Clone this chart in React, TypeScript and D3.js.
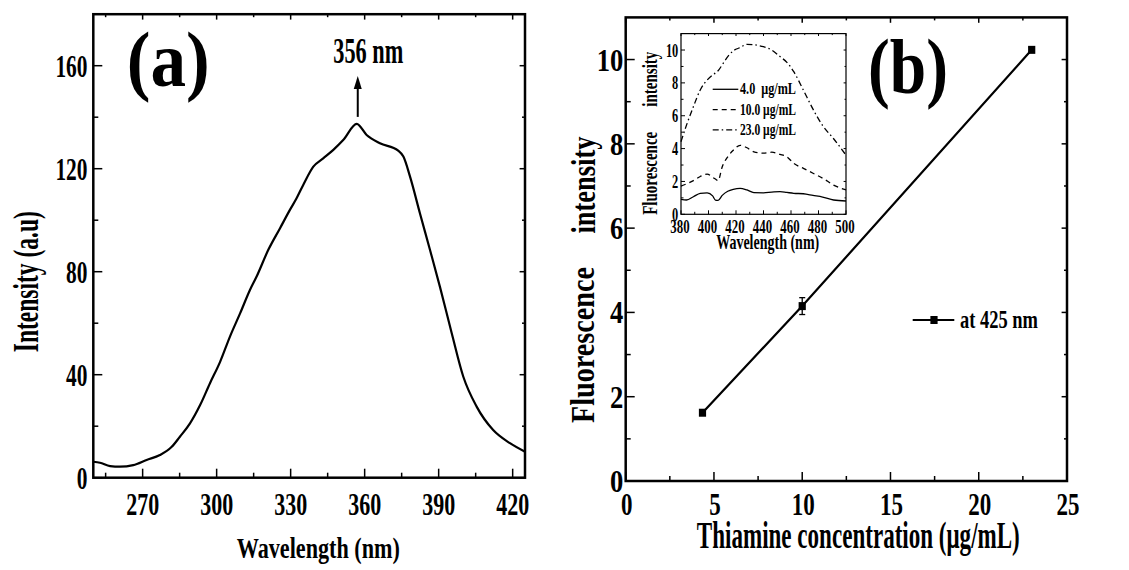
import React from 'react';
import * as d3 from 'd3';

// ---------- Panel (a): excitation spectrum ----------
const specWavelength = [250, 252.7, 256.8, 260.8, 266.2, 271.6, 277, 281.8, 285.1, 289.2, 293.3, 297.3, 301.4, 305.4, 309.5, 313.5, 316.2, 320.9, 325.7, 329.7, 332.4, 335.1, 339.2, 343.2, 347.3, 351.3, 356.8, 360.8, 366.2, 373.6, 375.7, 378.4, 382.4, 386.5, 390.5, 395.3, 400, 405.4, 412.1, 418.9, 425];
const specIntensity = [6.2, 5.8, 4.5, 4.3, 4.9, 6.9, 8.8, 12, 15.9, 21.1, 28.2, 36.7, 45, 54.8, 63.8, 72.9, 78.1, 88.4, 96.9, 104, 108.5, 113.7, 120.8, 124, 127.3, 131.1, 137.4, 133.1, 129.9, 127, 124.7, 116.9, 102.7, 88.4, 74.2, 56.1, 39.2, 27.6, 18.5, 13.4, 10.1];
const specXTicks = [270, 300, 330, 360, 390, 420];
const specXMinor = [255, 285, 315, 345, 375, 405];
const specYTicks = [0, 40, 80, 120, 160];
const specYMinor = [20, 60, 100, 140];

// ---------- Panel (b): calibration ----------
const concentration = [4.35, 10, 23];
const fluorescence = [1.62, 4.15, 10.23];
const fluorescenceErr = [0.05, 0.2, 0.06];
const concXTicks = [0, 5, 10, 15, 20, 25];
const concXMinor = [2.5, 7.5, 12.5, 17.5, 22.5];
const concYTicks = [0, 2, 4, 6, 8, 10];
const concYMinor = [1, 3, 5, 7, 9];

// ---------- Inset: emission spectra ----------
const insetWavelength = [380, 384, 389, 394, 399, 403, 405, 407, 410, 414, 418, 423, 428, 433, 440, 446, 452, 457, 462, 469, 476, 483, 491, 500];
const inset4 = [0.91, 0.87, 1.07, 1.28, 1.31, 1.12, 0.87, 0.85, 1.15, 1.4, 1.52, 1.58, 1.48, 1.32, 1.31, 1.35, 1.38, 1.33, 1.28, 1.25, 1.15, 1.05, 0.87, 0.81];
const inset10 = [1.72, 1.85, 2.05, 2.3, 2.45, 2.25, 2.15, 2.05, 2.9, 3.5, 3.9, 4.2, 4.05, 3.8, 3.72, 3.78, 3.65, 3.5, 3.1, 2.8, 2.5, 2.2, 1.78, 1.48];
const inset23 = [4.42, 5.43, 6.55, 7.57, 8.17, 8.48, 8.6, 8.74, 9.1, 9.6, 9.95, 10.15, 10.35, 10.32, 10.2, 10.0, 9.6, 9.25, 8.68, 7.56, 6.4, 5.4, 4.6, 3.6];
const insetXTicks = [380, 400, 420, 440, 460, 480, 500];
const insetXMinor = [390, 410, 430, 450, 470, 490];
const insetYTicks = [0, 2, 4, 6, 8, 10];
const insetYMinor = [1, 3, 5, 7, 9];
const insetLegend = ['4.0  μg/mL', '10.0 μg/mL', '23.0 μg/mL'];
const insetDash = ['none', '5,4', '6,3,1.5,3'];

const FONT = "'Liberation Serif', 'Times New Roman', serif";

function Txt({ x, y, size, len, anchor = 'middle', rot = false, children }: any) {
  return (
    <text
      transform={rot ? `translate(${x},${y}) rotate(-90)` : `translate(${x},${y})`}
      fontFamily={FONT}
      fontWeight="bold"
      fontSize={size}
      textAnchor={anchor}
      textLength={len}
      lengthAdjust="spacingAndGlyphs"
      style={{ whiteSpace: 'pre' }}
      fill="#000"
    >
      {children}
    </text>
  );
}

function Frame({ xs, ys, xMajor, xMinor, yMajor, yMinor, major, minor, sw, fill = 'none' }: any) {
  const [x0, x1] = xs.range();
  const [y0, y1] = ys.range(); // y0 bottom, y1 top
  const t: any[] = [];
  const tw = Math.max(1, sw * 0.6);
  xMajor.forEach((v: number, i: number) => {
    const x = xs(v);
    t.push(<line key={'xb' + i} x1={x} x2={x} y1={y0} y2={y0 - major} />);
    t.push(<line key={'xt' + i} x1={x} x2={x} y1={y1} y2={y1 + major * 0.6} />);
  });
  xMinor.forEach((v: number, i: number) => {
    const x = xs(v);
    t.push(<line key={'xbm' + i} x1={x} x2={x} y1={y0} y2={y0 - minor} />);
    t.push(<line key={'xtm' + i} x1={x} x2={x} y1={y1} y2={y1 + minor * 0.6} />);
  });
  yMajor.forEach((v: number, i: number) => {
    const y = ys(v);
    t.push(<line key={'yl' + i} x1={x0} x2={x0 + major} y1={y} y2={y} />);
    t.push(<line key={'yr' + i} x1={x1} x2={x1 - major * 0.6} y1={y} y2={y} />);
  });
  yMinor.forEach((v: number, i: number) => {
    const y = ys(v);
    t.push(<line key={'ylm' + i} x1={x0} x2={x0 + minor} y1={y} y2={y} />);
    t.push(<line key={'yrm' + i} x1={x1} x2={x1 - minor * 0.6} y1={y} y2={y} />);
  });
  return (
    <g>
      <rect x={x0} y={y1} width={x1 - x0} height={y0 - y1} fill={fill} stroke="#000" strokeWidth={sw} />
      <g stroke="#000" strokeWidth={tw}>{t}</g>
    </g>
  );
}

export default function App() {
  // Panel (a)
  const xA = d3.scaleLinear().domain([250, 425]).range([93.3, 525]);
  const yA = d3.scaleLinear().domain([0, 180]).range([477.7, 14.2]);
  const specLine = d3.line<number>()
    .x((_, i) => xA(specWavelength[i]))
    .y((d) => yA(d))
    .curve(d3.curveMonotoneX);

  // Panel (b)
  const xB = d3.scaleLinear().domain([0, 25]).range([625.7, 1067]);
  const yB = d3.scaleLinear().domain([0, 11]).range([481, 17.4]);
  const calLine = d3.line<number>().x((_, i) => xB(concentration[i])).y((d) => yB(d));

  // Inset
  const xI = d3.scaleLinear().domain([380, 500]).range([681, 846]);
  const yI = d3.scaleLinear().domain([0, 11]).range([214.3, 33.6]);
  const insetLine = d3.line<number>()
    .x((_, i) => xI(insetWavelength[i]))
    .y((d) => yI(d))
    .curve(d3.curveMonotoneX);
  const insetSeries = [inset4, inset10, inset23];

  const peakIdx = specIntensity.indexOf(d3.max(specIntensity) as number);
  const arrowX = xA(specWavelength[peakIdx]) + 1;
  const arrowBase = yA(specIntensity[peakIdx]) - 7;

  return (
    <svg width={1129} height={570} style={{ position: 'absolute', left: 0, top: 0, background: '#fff' }}>
      <rect x={0} y={0} width={1129} height={570} fill="#fff" />

      {/* ---------------- Panel (a) ---------------- */}
      <Frame xs={xA} ys={yA} xMajor={specXTicks} xMinor={specXMinor} yMajor={specYTicks} yMinor={specYMinor} major={9} minor={5} sw={2.5} />
      <path d={specLine(specIntensity) || ''} fill="none" stroke="#000" strokeWidth={2.2} />
      {specXTicks.map((v) => (
        <Txt key={'ax' + v} x={xA(v)} y={515} size={32} len={String(v).length * 11}>{String(v)}</Txt>
      ))}
      {specYTicks.map((v) => (
        <Txt key={'ay' + v} x={87.5} y={yA(v) + 11} size={31} len={String(v).length * 10.7} anchor="end">{String(v)}</Txt>
      ))}
      <Txt x={318.3} y={558.3} size={30} len={163}>Wavelength (nm)</Txt>
      <Txt x={38.3} y={281.7} size={36} len={141} rot>Intensity (a.u)</Txt>
      <Txt x={126.7} y={86} size={78} len={83} anchor="start">(a)</Txt>
      <Txt x={368.3} y={63.3} size={36} len={70}>356 nm</Txt>
      <line x1={arrowX} x2={arrowX} y1={arrowBase} y2={86} stroke="#000" strokeWidth={2} />
      <path d={`M${arrowX},76 L${arrowX - 4},89 L${arrowX + 4},89 Z`} fill="#000" />

      {/* ---------------- Panel (b) ---------------- */}
      <Frame xs={xB} ys={yB} xMajor={concXTicks} xMinor={concXMinor} yMajor={concYTicks} yMinor={concYMinor} major={9} minor={5} sw={2.5} />
      <path d={calLine(fluorescence) || ''} fill="none" stroke="#000" strokeWidth={2.2} />
      {concentration.map((c, i) => {
        const cx = xB(c);
        const lo = yB(fluorescence[i] - fluorescenceErr[i]);
        const hi = yB(fluorescence[i] + fluorescenceErr[i]);
        return (
          <g key={'pt' + i}>
            <line x1={cx} x2={cx} y1={lo} y2={hi} stroke="#000" strokeWidth={1.3} />
            <line x1={cx - 3} x2={cx + 3} y1={lo} y2={lo} stroke="#000" strokeWidth={1.3} />
            <line x1={cx - 3} x2={cx + 3} y1={hi} y2={hi} stroke="#000" strokeWidth={1.3} />
            <rect x={cx - 3.6} y={yB(fluorescence[i]) - 4} width={7.2} height={8} fill="#000" />
          </g>
        );
      })}
      {concXTicks.map((v) => (
        <Txt key={'bx' + v} x={xB(v) + 1} y={515} size={32} len={String(v).length * 11.5}>{String(v)}</Txt>
      ))}
      {concYTicks.map((v) => (
        <Txt key={'by' + v} x={623.3} y={yB(v) + 11} size={32} len={String(v).length * 13.3} anchor="end">{String(v)}</Txt>
      ))}
      <Txt x={858.3} y={548.3} size={37} len={323}>Thiamine concentration (μg/mL)</Txt>
      <Txt x={594} y={345} size={33} len={156} rot>Fluorescence</Txt>
      <Txt x={595} y={185} size={33} len={97} rot>intensity</Txt>
      <Txt x={868} y={93} size={78} len={80} anchor="start">(b)</Txt>
      {/* legend */}
      <line x1={912.7} x2={954.3} y1={320} y2={320} stroke="#000" strokeWidth={2.2} />
      <rect x={930.4} y={316} width={7.2} height={8} fill="#000" />
      <Txt x={960} y={328.3} size={25} len={78} anchor="start">at 425 nm</Txt>

      {/* ---------------- Inset ---------------- */}
      <Frame xs={xI} ys={yI} xMajor={insetXTicks} xMinor={insetXMinor} yMajor={insetYTicks} yMinor={insetYMinor} major={4} minor={2.5} sw={1.2} fill="#fff" />
      {insetSeries.map((s, i) => (
        <path key={'is' + i} d={insetLine(s) || ''} fill="none" stroke="#000" strokeWidth={1.3} strokeDasharray={insetDash[i]} />
      ))}
      {insetXTicks.map((v) => (
        <Txt key={'ix' + v} x={xI(v) - 1} y={233.3} size={19} len={19.3}>{String(v)}</Txt>
      ))}
      {insetYTicks.map((v) => (
        <Txt key={'iy' + v} x={678.3} y={yI(v) + 6.5} size={18} len={String(v).length * 6.2} anchor="end">{String(v)}</Txt>
      ))}
      <Txt x={767.7} y={249.3} size={22} len={103}>Wavelength (nm)</Txt>
      <Txt x={656.5} y={173.3} size={22} len={83} rot>Fluorescence</Txt>
      <Txt x={657} y={79.2} size={22} len={55} rot>intensity</Txt>
      {insetLegend.map((lab, i) => {
        const ly = 89.3 + i * 20.3;
        return (
          <g key={'il' + i}>
            <line x1={712.7} x2={738.3} y1={ly} y2={ly} stroke="#000" strokeWidth={1.3} strokeDasharray={insetDash[i]} />
            <Txt x={740} y={ly + 5} size={16} len={56} anchor="start">{lab}</Txt>
          </g>
        );
      })}
    </svg>
  );
}
